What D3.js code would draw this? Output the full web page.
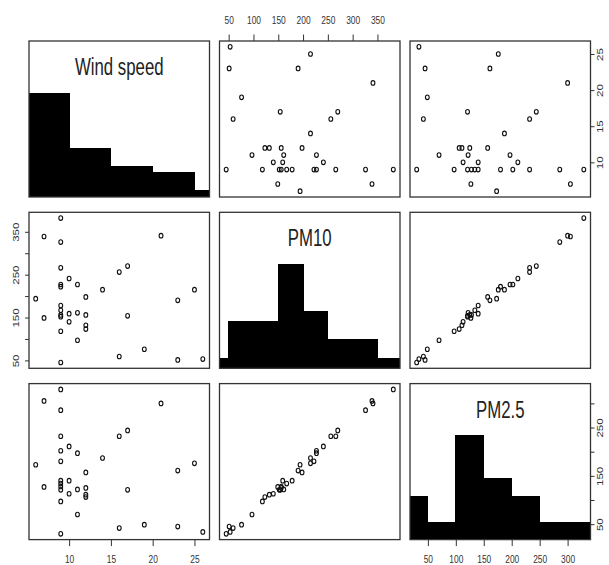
<!DOCTYPE html>
<html lang="en">
<head>
<meta charset="UTF-8">
<title>Wind speed, PM10 and PM2.5 - scatterplot matrix</title>
<script src="https://d3js.org/d3.v7.min.js"></script>
<style>
    body, html {
        margin: 0;
        padding: 0;
        background: #fff;
        overflow: hidden;
    }
    svg {
        display: block;
    }
    .box {
        fill: none;
        stroke: #333;
        stroke-width: 1.3px;
    }
    .pt {
        fill: none;
        stroke: #111;
        stroke-width: 1.1px;
    }
    .bar {
        fill: #000;
        stroke: #000;
        stroke-width: 1px;
        shape-rendering: crispEdges;
    }
    .tick line {
        stroke: #333;
        stroke-width: 1px;
    }
    .tick text {
        font-family: "Liberation Sans", Arial, sans-serif;
        font-size: 11.5px;
        fill: #333;
    }
    .diag-label {
        font-family: "Liberation Sans", Arial, sans-serif;
        font-size: 23px;
        fill: #222;
        text-anchor: middle;
    }
</style>
</head>
<body>
<svg id="chart" width="609" height="565"></svg>

<script>
    // variables on the diagonal
    const varNames = ["Wind speed", "PM10", "PM2.5"];

    // one entry per observation, same order in every array
    const windSpeed = [26, 25, 23, 23, 21, 19, 17, 17, 16, 16, 14, 12, 12, 12, 12, 11, 11, 11,
        10, 10, 10, 9, 9, 9, 9, 9, 9, 9, 9, 9, 9, 9, 7, 7, 6];
    const pm10 = [53, 215, 51, 190, 341, 76, 154, 270, 59, 256, 215, 123, 132, 156, 198, 97, 161, 227,
        140, 159, 241, 45, 118, 152, 156, 167, 178, 222, 227, 266, 326, 382, 149, 339, 194];
    const pm25 = [34, 176, 45, 161, 300, 49, 121, 244, 42, 232, 187, 106, 111, 125, 157, 70, 122, 197,
        113, 140, 211, 30, 97, 121, 128, 134, 140, 180, 202, 232, 286, 329, 127, 305, 173];

    // axis ticks
    const windTicks = [10, 15, 20, 25];
    const pm10Ticks = [50, 100, 150, 200, 250, 300, 350];
    const pm25Ticks = [50, 100, 150, 200, 250, 300];

    // histogram breaks (right-closed bins)
    const windBreaks = [5, 10, 15, 20, 25, 30];
    const pm10Breaks = [0, 50, 100, 150, 200, 250, 300, 350, 400];
    const pm25Breaks = [0, 50, 100, 150, 200, 250, 300, 350];

    const columns = [windSpeed, pm10, pm25];
    const tickSets = [windTicks, pm10Ticks, pm25Ticks];
    const breakSets = [windBreaks, pm10Breaks, pm25Breaks];

    // layout
    const marginLeft = 29, marginTop = 41;
    const pw = 180.5, ph = 156;
    const gapX = 10, gapY = 15.3;
    const squeeze = 0.73;   // glyphs in the source are narrow
    const labelBase = 34;

    const svg = d3.select("#chart");

    // each variable gets the data range plus 4% on both sides
    function padded(v) {
        const [lo, hi] = d3.extent(v);
        const pad = (hi - lo) * 0.04;
        return [lo - pad, hi + pad];
    }
    const xs = columns.map(v => d3.scaleLinear().domain(padded(v)).range([0, pw]));
    const ys = columns.map(v => d3.scaleLinear().domain(padded(v)).range([ph, 0]));
    const yHist = d3.scaleLinear().domain([0, 1.5]).range([ph, 0]);

    svg.append("defs").append("clipPath")
        .attr("id", "panel-clip")
        .append("rect")
        .attr("width", pw)
        .attr("height", ph);

    const n = windSpeed.length;

    for (let i = 0; i < 3; i++) {
        for (let j = 0; j < 3; j++) {
            const g = svg.append("g")
                .attr("transform", `translate(${marginLeft + j * (pw + gapX)},${marginTop + i * (ph + gapY)})`);
            const inner = g.append("g").attr("clip-path", "url(#panel-clip)");

            if (i === j) {
                const vals = columns[i];
                const bins = d3.pairs(breakSets[i]).map(([lo, hi], k) => ({
                    lo, hi,
                    n: vals.filter(v => (k === 0 ? v >= lo : v > lo) && v <= hi).length
                }));
                const maxN = d3.max(bins, d => d.n);

                inner.selectAll("rect")
                    .data(bins)
                    .join("rect")
                    .attr("class", "bar")
                    .attr("x", d => xs[i](d.lo))
                    .attr("width", d => xs[i](d.hi) - xs[i](d.lo))
                    .attr("y", d => yHist(d.n / maxN))
                    .attr("height", d => ph - yHist(d.n / maxN));

                g.append("text")
                    .attr("class", "diag-label")
                    .attr("transform", `translate(${pw / 2},${labelBase}) scale(${squeeze},1)`)
                    .text(varNames[i]);
            } else {
                inner.selectAll("ellipse")
                    .data(d3.range(n))
                    .join("ellipse")
                    .attr("class", "pt")
                    .attr("cx", k => xs[j](columns[j][k]))
                    .attr("cy", k => ys[i](columns[i][k]))
                    .attr("rx", 1.9)
                    .attr("ry", 2.3);
            }

            g.append("rect")
                .attr("class", "box")
                .attr("width", pw)
                .attr("height", ph);

            // axes alternate around the matrix like R's pairs()
            if (i === 0 && j % 2 === 1) {
                const ax = g.append("g").call(d3.axisTop(xs[j])
                    .tickValues(tickSets[j]).tickSize(6.5).tickPadding(10.5).tickSizeOuter(0));
                ax.select(".domain").remove();
                ax.selectAll(".tick text").attr("transform", `scale(${squeeze},1)`);
            }
            if (i === 2 && j % 2 === 0) {
                const ax = g.append("g").attr("transform", `translate(0,${ph})`)
                    .call(d3.axisBottom(xs[j])
                        .tickValues(tickSets[j]).tickSize(6.5).tickPadding(9).tickSizeOuter(0));
                ax.select(".domain").remove();
                ax.selectAll(".tick text").attr("transform", `scale(${squeeze},1)`);
            }
            if (j === 0 && i % 2 === 1) {
                const t = tickSets[i];
                const ax = g.append("g").call(d3.axisLeft(ys[i])
                    .tickValues(t).tickSize(4).tickSizeOuter(0)
                    .tickFormat((d, k) => (t.length > 5 && k % 2) ? "" : d));
                ax.select(".domain").remove();
                ax.selectAll(".tick text")
                    .attr("x", null).attr("dy", null)
                    .attr("text-anchor", "middle")
                    .attr("transform", `translate(-10,0) scale(${squeeze},1) rotate(-90)`);
            }
            if (j === 2 && i % 2 === 0) {
                const t = tickSets[i];
                const ax = g.append("g").attr("transform", `translate(${pw},0)`)
                    .call(d3.axisRight(ys[i])
                        .tickValues(t).tickSize(4).tickSizeOuter(0)
                        .tickFormat((d, k) => (t.length > 5 && k % 2) ? "" : d));
                ax.select(".domain").remove();
                ax.selectAll(".tick text")
                    .attr("x", null).attr("dy", null)
                    .attr("text-anchor", "middle")
                    .attr("transform", `translate(12,0) scale(${squeeze},1) rotate(-90)`);
            }
        }
    }
</script>
</body>
</html>
